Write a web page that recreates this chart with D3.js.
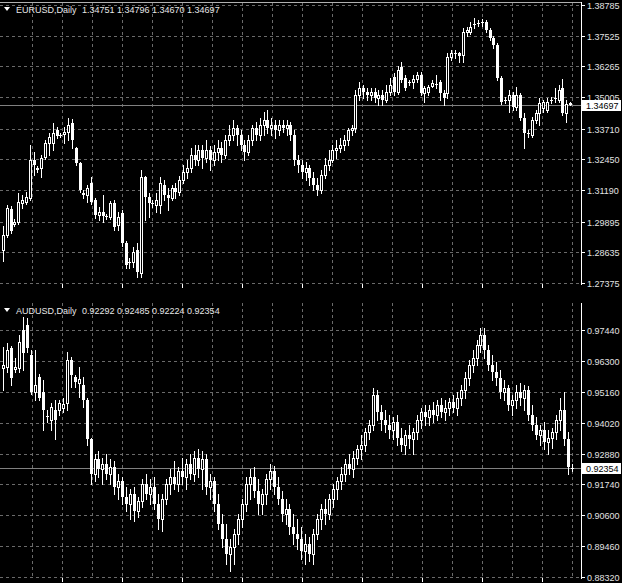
<!DOCTYPE html>
<html><head><meta charset="utf-8">
<script src="https://cdn.jsdelivr.net/npm/d3@7"></script>
<style>html,body{margin:0;padding:0;background:#000;overflow:hidden}</style>
</head><body>
<svg id="c" width="622" height="583"></svg>
<script>
// ---------- EURUSD Daily ----------
const eurTitle = "EURUSD,Daily";
const eurTicks = [1.38785,1.37525,1.36265,1.35005,1.33710,1.32450,1.31190,1.29895,1.28635,1.27375];
const eurOpen = [
1.2873,1.2935,1.3041,1.2980,1.2988,1.3066,1.3070,1.3086,1.3242,1.3210,
1.3210,1.3255,1.3312,1.3312,1.3366,1.3341,1.3349,1.3357,1.3394,1.3292,
1.3230,1.3107,1.3099,1.3148,1.3078,1.3017,1.3029,1.3012,1.3008,1.3066,
1.2976,1.3025,1.2902,1.2824,1.2824,1.2873,1.2779,1.3173,1.3090,1.3066,
1.3058,1.3058,1.3140,1.3099,1.3086,1.3127,1.3111,1.3160,1.3193,1.3210,
1.3263,1.3242,1.3283,1.3251,1.3283,1.3242,1.3275,1.3292,1.3263,1.3324,
1.3345,1.3374,1.3345,1.3304,1.3275,1.3324,1.3374,1.3345,1.3386,1.3407,
1.3374,1.3386,1.3366,1.3386,1.3374,1.3386,1.3345,1.3242,1.3222,1.3193,
1.3210,1.3169,1.3140,1.3119,1.3181,1.3222,1.3242,1.3283,1.3292,1.3304,
1.3324,1.3366,1.3374,1.3509,1.3538,1.3521,1.3509,1.3521,1.3497,1.3509,
1.3489,1.3521,
1.3583,1.3521,1.3624,1.3579,1.3558,1.3562,1.3575,1.3591,1.3517,1.3521,
1.3546,1.3554,1.3562,1.3517,1.3517,1.3665,1.3677,1.3681,1.3673,1.3768,
1.3768,1.3796,1.3801,1.3805,1.3809,1.3776,1.3743,1.3714,1.3579,1.3484,
1.3489,1.3509,1.3460,1.3509,1.3415,1.3353,1.3345,1.3407,1.3435,1.3456,
1.3448,1.3484,1.3493,1.3489,1.3538,1.3435,1.34751];
const eurHigh = [
1.2972,1.3058,1.3054,1.3000,1.3107,1.3099,1.3111,1.3304,1.3275,1.3218,
1.3263,1.3324,1.3353,1.3394,1.3378,1.3353,1.3378,1.3415,1.3411,1.3296,
1.3234,1.3119,1.3140,1.3173,1.3086,1.3049,1.3099,1.3021,1.3074,1.3078,
1.3029,1.3037,1.2910,1.2840,1.2885,1.2902,1.3201,1.3177,1.3107,1.3078,
1.3107,1.3173,1.3160,1.3127,1.3140,1.3148,1.3177,1.3222,1.3242,1.3292,
1.3304,1.3304,1.3304,1.3324,1.3300,1.3304,1.3324,1.3316,1.3345,1.3386,
1.3407,1.3386,1.3366,1.3324,1.3345,1.3386,1.3398,1.3415,1.3439,1.3448,
1.3415,1.3407,1.3407,1.3407,1.3407,1.3398,1.3366,1.3263,1.3242,1.3234,
1.3222,1.3193,1.3169,1.3201,1.3251,1.3283,1.3304,1.3324,1.3333,1.3345,
1.3374,1.3386,1.3530,1.3562,1.3550,1.3538,1.3538,1.3538,1.3530,1.3530,
1.3550,1.3579,
1.3599,1.3628,1.3645,1.3591,1.3571,1.3591,1.3604,1.3604,1.3546,1.3550,
1.3571,1.3591,1.3571,1.3530,1.3681,1.3694,1.3694,1.3686,1.3784,1.3788,
1.3809,1.3825,1.3817,1.3821,1.3817,1.3784,1.3751,1.3723,1.3587,1.3501,
1.3530,1.3521,1.3542,1.3517,1.3435,1.3366,1.3419,1.3448,1.3497,1.3489,
1.3497,1.3501,1.3538,1.3550,1.3575,1.3489,1.34796];
const eurLow = [
1.2828,1.2926,1.2943,1.2972,1.2980,1.3045,1.3062,1.3078,1.3181,1.3193,
1.3173,1.3247,1.3263,1.3283,1.3333,1.3337,1.3312,1.3324,1.3292,1.3222,
1.3111,1.3086,1.3070,1.3062,1.3004,1.2996,1.2988,1.3000,1.3000,1.2955,
1.2955,1.2889,1.2799,1.2799,1.2803,1.2763,1.2763,1.2996,1.3008,1.3049,
1.3029,1.3025,1.3078,1.3037,1.3078,1.3086,1.3099,1.3148,1.3169,1.3193,
1.3222,1.3222,1.3210,1.3234,1.3201,1.3222,1.3242,1.3234,1.3251,1.3304,
1.3324,1.3304,1.3283,1.3242,1.3263,1.3304,1.3324,1.3324,1.3345,1.3353,
1.3345,1.3333,1.3345,1.3357,1.3345,1.3324,1.3222,1.3193,1.3169,1.3160,
1.3140,1.3119,1.3099,1.3107,1.3169,1.3201,1.3234,1.3251,1.3275,1.3283,
1.3304,1.3345,1.3357,1.3489,1.3497,1.3489,1.3489,1.3480,1.3468,1.3468,
1.3480,1.3509,
1.3509,1.3513,1.3562,1.3530,1.3550,1.3538,1.3562,1.3509,1.3480,1.3509,
1.3542,1.3538,1.3489,1.3468,1.3497,1.3653,1.3661,1.3645,1.3645,1.3751,
1.3759,1.3784,1.3792,1.3792,1.3768,1.3735,1.3702,1.3571,1.3472,1.3476,
1.3439,1.3448,1.3448,1.3407,1.3292,1.3337,1.3337,1.3394,1.3386,1.3439,
1.3439,1.3476,1.3480,1.3480,1.3427,1.3398,1.34670];
const eurClose = [
1.2935,1.3045,1.2951,1.2988,1.3070,1.3078,1.3090,1.3242,1.3222,1.3201,
1.3251,1.3312,1.3337,1.3353,1.3341,1.3345,1.3357,1.3386,1.3324,1.3230,
1.3119,1.3099,1.3127,1.3070,1.3017,1.3029,1.3012,1.3008,1.3066,1.2967,
1.3008,1.2902,1.2811,1.2820,1.2865,1.2783,1.3173,1.3090,1.3066,1.3062,
1.3078,1.3148,1.3099,1.3086,1.3127,1.3111,1.3160,1.3193,1.3210,1.3263,
1.3242,1.3283,1.3251,1.3283,1.3242,1.3275,1.3292,1.3263,1.3324,1.3345,
1.3374,1.3345,1.3304,1.3275,1.3324,1.3374,1.3345,1.3386,1.3407,1.3374,
1.3386,1.3366,1.3386,1.3374,1.3386,1.3345,1.3242,1.3222,1.3193,1.3210,
1.3169,1.3140,1.3119,1.3181,1.3222,1.3242,1.3283,1.3292,1.3304,1.3324,
1.3366,1.3374,1.3509,1.3538,1.3521,1.3509,1.3521,1.3497,1.3509,1.3489,
1.3521,1.3550,
1.3521,1.3612,1.3571,1.3538,1.3562,1.3575,1.3591,1.3517,1.3538,1.3542,
1.3558,1.3550,1.3517,1.3497,1.3665,1.3681,1.3681,1.3669,1.3768,1.3776,
1.3788,1.3801,1.3805,1.3809,1.3776,1.3743,1.3714,1.3579,1.3480,1.3489,
1.3509,1.3460,1.3509,1.3415,1.3353,1.3349,1.3407,1.3435,1.3476,1.3480,
1.3480,1.3489,1.3497,1.3530,1.3435,1.3472,1.34697];

// ---------- AUDUSD Daily ----------
const audTitle = "AUDUSD,Daily";
const audTicks = [0.97440,0.96300,0.95160,0.94020,0.92880,0.91740,0.90600,0.89460,0.88320];
const audOpen = [
.9604,.9608,.9678,.9601,.9604,.9744,.9762,.9652,.9516,.9571,
.9516,.9428,.9413,.9450,.9450,.9457,.9476,.9634,.9571,.9549,
.9542,.9487,.9340,.9211,.9266,.9229,.9248,.9211,.9237,.9163,
.9185,.9126,.9101,.9137,.9075,.9112,.9174,.9137,.9163,.9101,
.9045,.9119,.9174,.9200,.9174,.9222,.9200,.9248,.9211,.9273,
.9229,.9266,.9163,.9185,.9101,.9027,.8972,.8917,.8943,.8990,
.9045,.9101,.9174,.9200,.9148,.9101,.9137,.9193,.9222,.9163,
.9119,.9064,.9082,.9016,.8990,.8972,.8928,.8954,.8917,.8990,
.9045,.9082,.9064,.9119,.9156,.9185,.9211,.9248,.9229,.9273,
.9303,.9321,.9369,.9395,.9505,.9443,.9413,.9395,.9376,.9406,
.9347,.9321,.9358,.9340,.9369,.9413,.9443,.9421,.9450,.9432,
.9468,.9443,.9457,.9479,.9457,.9494,.9523,.9568,.9615,.9641,
.9689,.9726,.9671,.9615,.9590,.9568,.9516,.9531,.9468,.9487,
.9516,.9494,.9523,.9432,.9395,.9358,.9376,.9332,.9347,.9369,
.9413,.9450,.9340,.92292];
const audHigh = [
.9682,.9696,.9685,.9641,.9726,.9792,.9788,.9671,.9671,.9582,
.9560,.9450,.9476,.9487,.9487,.9494,.9663,.9645,.9579,.9608,
.9571,.9494,.9347,.9285,.9296,.9273,.9285,.9266,.9259,.9211,
.9200,.9163,.9156,.9163,.9126,.9193,.9211,.9193,.9200,.9137,
.9137,.9193,.9229,.9259,.9237,.9273,.9266,.9285,.9296,.9303,
.9296,.9285,.9211,.9200,.9137,.9064,.9027,.8972,.9009,.9064,
.9119,.9200,.9229,.9237,.9193,.9156,.9211,.9248,.9241,.9200,
.9148,.9119,.9101,.9064,.9045,.9016,.8990,.8979,.9009,.9064,
.9101,.9119,.9137,.9174,.9200,.9237,.9266,.9285,.9296,.9321,
.9358,.9384,.9413,.9531,.9523,.9468,.9450,.9432,.9421,.9432,
.9384,.9376,.9395,.9384,.9432,.9457,.9468,.9468,.9479,.9487,
.9494,.9487,.9494,.9505,.9516,.9542,.9590,.9634,.9671,.9707,
.9751,.9751,.9689,.9652,.9626,.9597,.9560,.9542,.9505,.9542,
.9549,.9542,.9538,.9468,.9421,.9395,.9406,.9376,.9384,.9432,
.9494,.9516,.9369,.92485];
const audLow = [
.9523,.9590,.9542,.9590,.9590,.9597,.9663,.9509,.9487,.9487,
.9376,.9406,.9376,.9340,.9432,.9443,.9450,.9534,.9534,.9498,
.9461,.9321,.9174,.9185,.9200,.9174,.9193,.9174,.9137,.9119,
.9101,.9075,.9045,.9038,.9053,.9090,.9119,.9101,.9082,.9009,
.9001,.9101,.9137,.9156,.9148,.9174,.9156,.9193,.9185,.9200,
.9156,.9137,.9119,.9075,.9009,.8943,.8880,.8854,.8880,.8954,
.9016,.9075,.9119,.9126,.9064,.9064,.9101,.9156,.9137,.9101,
.9038,.9027,.8990,.8954,.8935,.8898,.8880,.8891,.8880,.8972,
.9009,.9027,.9045,.9090,.9119,.9156,.9185,.9211,.9200,.9248,
.9266,.9296,.9340,.9376,.9413,.9376,.9369,.9347,.9340,.9321,
.9296,.9285,.9310,.9285,.9340,.9384,.9395,.9395,.9406,.9413,
.9421,.9413,.9432,.9443,.9432,.9468,.9494,.9542,.9590,.9615,
.9663,.9641,.9597,.9560,.9542,.9494,.9487,.9450,.9432,.9457,
.9468,.9450,.9413,.9376,.9340,.9321,.9303,.9285,.9310,.9340,
.9376,.9321,.9211,.92224];
const audClose = [
.9615,.9671,.9568,.9608,.9700,.9659,.9678,.9516,.9542,.9494,
.9450,.9421,.9461,.9413,.9476,.9472,.9634,.9579,.9553,.9564,
.9487,.9340,.9211,.9266,.9229,.9248,.9211,.9237,.9163,.9185,
.9126,.9101,.9137,.9075,.9112,.9174,.9137,.9163,.9101,.9045,
.9119,.9174,.9200,.9174,.9222,.9200,.9248,.9211,.9273,.9229,
.9266,.9163,.9185,.9101,.9027,.8972,.8917,.8943,.8990,.9045,
.9101,.9174,.9200,.9148,.9101,.9137,.9193,.9222,.9163,.9119,
.9064,.9082,.9016,.8990,.8972,.8928,.8954,.8917,.8990,.9045,
.9082,.9064,.9119,.9156,.9185,.9211,.9248,.9229,.9273,.9303,
.9321,.9369,.9395,.9505,.9443,.9413,.9395,.9376,.9406,.9347,
.9321,.9358,.9340,.9369,.9413,.9443,.9421,.9450,.9432,.9468,
.9443,.9457,.9479,.9457,.9494,.9523,.9568,.9615,.9641,.9689,
.9726,.9671,.9615,.9590,.9568,.9516,.9531,.9468,.9487,.9516,
.9494,.9523,.9432,.9395,.9358,.9376,.9332,.9347,.9369,.9413,
.9450,.9340,.9237,.92354];

const svg = d3.select('#c');
svg.append('rect').attr('width',622).attr('height',583).attr('fill','#000');

const FONT = '"Liberation Sans", Arial, sans-serif';
const AXIS_X = 581;

function panel(p){
  const g = svg.append('g');
  const n = Math.min(p.open.length, p.high.length, p.low.length, p.close.length);
  const y = d3.scaleLinear()
    .domain([p.ticks[p.ticks.length-1], p.ticks[0]])
    .range([p.yBottom, p.yTop]);
  const x = d3.scalePoint().domain(d3.range(n)).range([3, p.xLast]);

  // vertical dashed grid
  g.selectAll('line.vg').data(d3.range(32, AXIS_X, 30)).join('line')
    .attr('x1', d=>d+0.5).attr('x2', d=>d+0.5)
    .attr('y1', p.frameTop).attr('y2', p.frameBottom)
    .attr('stroke', '#6a6a6a').attr('stroke-dasharray', '3,3');
  // horizontal dashed grid
  g.selectAll('line.hg').data(p.ticks).join('line')
    .attr('x1', 0).attr('x2', AXIS_X)
    .attr('y1', d=>Math.round(y(d))+0.5).attr('y2', d=>Math.round(y(d))+0.5)
    .attr('stroke', '#6a6a6a').attr('stroke-dasharray', '3,3');

  if (p.topLine) {
    g.append('line').attr('x1',0).attr('x2',AXIS_X).attr('y1',p.frameTop+0.5).attr('y2',p.frameTop+0.5)
      .attr('stroke','#b0b0b0');
  }

  // current price line
  const last = p.close[n-1];
  const ly = Math.round(y(last))+0.5;
  g.append('line').attr('x1',0).attr('x2',AXIS_X).attr('y1',ly).attr('y2',ly)
    .attr('stroke','#808080');

  // candles
  const idx = d3.range(n);
  g.selectAll('line.wick').data(idx).join('line')
    .attr('x1', i=>Math.round(x(i))+0.5).attr('x2', i=>Math.round(x(i))+0.5)
    .attr('y1', i=>Math.round(y(p.high[i]))).attr('y2', i=>Math.round(y(p.low[i]))+1)
    .attr('stroke', '#fff').attr('stroke-width', 1);
  idx.forEach(i=>{
    const cx = Math.round(x(i));
    const yo = y(p.open[i]), yc = y(p.close[i]);
    const top = Math.round(Math.min(yo,yc)), bot = Math.round(Math.max(yo,yc));
    const bull = p.close[i] > p.open[i];
    if (bull && bot - top >= 2) {
      g.append('rect').attr('x', cx-1+0.5).attr('y', top+0.5)
        .attr('width', 2).attr('height', bot-top)
        .attr('fill', '#000').attr('stroke', '#fff').attr('stroke-width', 1);
    } else {
      g.append('rect').attr('x', cx-1).attr('y', top)
        .attr('width', 3).attr('height', Math.max(1, bot-top))
        .attr('fill', '#fff');
    }
  });

  // right axis
  g.append('line').attr('x1',AXIS_X+0.5).attr('x2',AXIS_X+0.5)
    .attr('y1',p.frameTop).attr('y2',p.frameBottom+1).attr('stroke','#fff');
  g.selectAll('line.rt').data(p.ticks).join('line')
    .attr('x1',AXIS_X).attr('x2',AXIS_X+4)
    .attr('y1',d=>Math.round(y(d))+0.5).attr('y2',d=>Math.round(y(d))+0.5)
    .attr('stroke','#fff');
  g.selectAll('text.rl').data(p.ticks).join('text')
    .attr('x', AXIS_X+6).attr('y', d=>Math.round(y(d))+3.5)
    .attr('fill','#e2e2e2').attr('font-family',FONT).attr('font-size','9px')
    .text(d=>d.toFixed(5));
  // time ticks
  g.selectAll('line.tt').data(d3.range(62, AXIS_X, 60)).join('line')
    .attr('x1',d=>d+0.5).attr('x2',d=>d+0.5)
    .attr('y1',p.frameBottom).attr('y2',p.frameBottom+4).attr('stroke','#fff');

  // current price tag
  g.append('rect').attr('x',AXIS_X+1).attr('y',Math.round(y(last))-5)
    .attr('width',39).attr('height',11).attr('fill','#fff');
  g.append('text').attr('x',AXIS_X+5).attr('y',Math.round(y(last))+3.5)
    .attr('fill','#000').attr('font-family',FONT).attr('font-size','9px')
    .text(last.toFixed(5));

  // title
  const ty = p.frameTop + 11;
  g.append('path').attr('d', `M4,${ty-6}L10,${ty-6}L7,${ty-2}Z`).attr('fill','#fff');
  g.append('text').attr('x',16).attr('y',ty)
    .attr('fill','#e6e6e6').attr('font-family',FONT).attr('font-size','9px')
    .text(p.title);
  g.append('text').attr('x',82).attr('y',ty)
    .attr('fill','#e6e6e6').attr('font-family',FONT).attr('font-size','9px')
    .text([p.open[n-1],p.high[n-1],p.low[n-1],p.close[n-1]].map(v=>v.toFixed(5)).join(' '));
}

panel({title:eurTitle, ticks:eurTicks, open:eurOpen, high:eurHigh, low:eurLow, close:eurClose,
  yTop:5, yBottom:283, frameTop:2, frameBottom:284, xLast:570, topLine:true});
panel({title:audTitle, ticks:audTicks, open:audOpen, high:audHigh, low:audLow, close:audClose,
  yTop:330, yBottom:577, frameTop:303, frameBottom:578, xLast:572, topLine:false});
</script>
</body></html>
